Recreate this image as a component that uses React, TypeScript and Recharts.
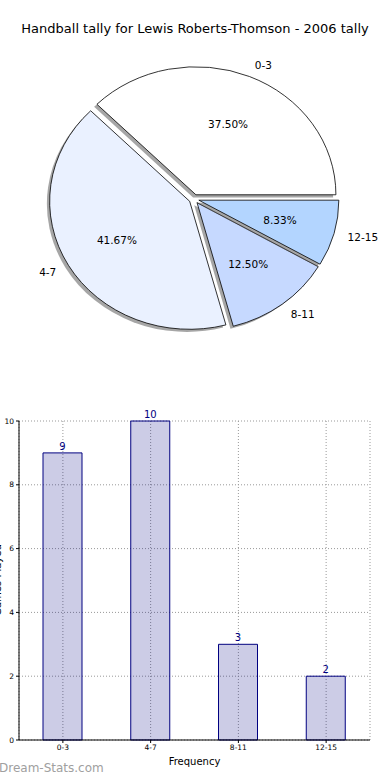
import { PieChart, Pie, Cell, BarChart, Bar, XAxis, YAxis, CartesianGrid, LabelList } from 'recharts'

const categories = ['0-3', '4-7', '8-11', '12-15']
const tallies = [9, 10, 3, 2]
const sliceColors = ['#ffffff', '#eaf1ff', '#c6d9ff', '#b3d5ff']
const yTicks = [0, 2, 4, 6, 8, 10]

const total = tallies.reduce((a, b) => a + b, 0)
const pieData = categories.map((name, i) => ({ name, value: tallies[i] }))
const barData = categories.map((name, i) => ({ name, value: tallies[i] }))

const FONT = '"DejaVu Sans", sans-serif'
const SQUASH = 128 / 140 // pie is drawn a bit flatter than a circle
const EXPLODE = 5
const RAD = Math.PI / 180

const pt = (cx: number, cy: number, r: number, angle: number) => ({
  x: cx + r * Math.cos(angle * RAD),
  y: cy - r * SQUASH * Math.sin(angle * RAD),
})

const wedgePath = (cx: number, cy: number, r: number, start: number, end: number) => {
  const a = pt(cx, cy, r, start)
  const b = pt(cx, cy, r, end)
  const large = Math.abs(end - start) > 180 ? 1 : 0
  const sweep = end > start ? 0 : 1
  return `M${cx},${cy} L${a.x},${a.y} A${r},${r * SQUASH} 0 ${large} ${sweep} ${b.x},${b.y} Z`
}

const explodedCenter = (cx: number, cy: number, mid: number) => pt(cx, cy, EXPLODE, mid)

const ExplodedSlice = (props: any) => {
  const { cx, cy, outerRadius, startAngle, endAngle, fill } = props
  const mid = (startAngle + endAngle) / 2
  const c = explodedCenter(cx, cy, mid)
  const d = wedgePath(c.x, c.y, outerRadius, startAngle, endAngle)
  return (
    <g>
      <path d={d} fill="#4d4d4d" fillOpacity={0.5} transform="translate(-2.8, 2.6)" />
      <path d={d} fill={fill} stroke="#000" strokeWidth={0.8} strokeLinejoin="round" />
    </g>
  )
}

const renderLabels = (props: any) => {
  const { cx, cy, outerRadius, startAngle, endAngle, index } = props
  const mid = (startAngle + endAngle) / 2
  const c = explodedCenter(cx, cy, mid)
  const outer = pt(c.x, c.y, outerRadius * 1.1, mid)
  const inner = pt(c.x, c.y, outerRadius * 0.6, mid)
  const pct = ((tallies[index] / total) * 100).toFixed(2) + '%'
  return (
    <g key={`lbl-${index}`} fontFamily={FONT} fontSize={10.5} fill="#000">
      <text x={outer.x} y={outer.y} textAnchor={Math.cos(mid * RAD) >= 0 ? 'start' : 'end'} dominantBaseline="central">
        {categories[index]}
      </text>
      <text x={inner.x} y={inner.y} textAnchor="middle" dominantBaseline="central">
        {pct}
      </text>
    </g>
  )
}

const App = () => (
  <div style={{ position: 'absolute', left: 0, top: 0, width: 390, height: 780, background: '#fff', fontFamily: FONT, overflow: 'hidden' }}>
    <div style={{ position: 'absolute', left: 0, top: 21, width: 390, textAlign: 'center', fontSize: 13, color: '#000' }}>
      Handball tally for Lewis Roberts-Thomson - 2006 tally
    </div>

    <div style={{ position: 'absolute', left: 0, top: 0 }}>
      <PieChart width={390} height={360} margin={{ top: 0, right: 0, bottom: 0, left: 0 }}>
        <Pie
          data={pieData}
          dataKey="value"
          nameKey="name"
          cx={194}
          cy={199}
          outerRadius={140}
          startAngle={0}
          endAngle={360}
          stroke="none"
          shape={ExplodedSlice}
          label={renderLabels}
          labelLine={false}
          isAnimationActive={false}
        >
          {pieData.map((_, i) => <Cell key={i} fill={sliceColors[i]} />)}
        </Pie>
      </PieChart>
    </div>

    <div style={{ position: 'absolute', left: 0, top: 400 }}>
      <BarChart width={390} height={380} data={barData} margin={{ top: 21, right: 20, bottom: 0, left: 0 }}>
        <CartesianGrid stroke="#999" strokeDasharray="1 2" />
        <XAxis
          dataKey="name"
          height={40}
          interval={0}
          tick={{ fontSize: 7.5, fill: '#000', fontFamily: FONT }}
          tickSize={3}
          axisLine={{ stroke: '#000' }}
          tickLine={{ stroke: '#000' }}
          label={{ value: 'Frequency', position: 'insideBottom', offset: 15, fontSize: 10, fill: '#000', fontFamily: FONT }}
        />
        <XAxis xAxisId="top" orientation="top" dataKey="name" height={0} tick={false} tickLine={false} axisLine={{ stroke: '#000' }} />
        <YAxis
          domain={[0, 10]}
          ticks={yTicks}
          width={19}
          tick={{ fontSize: 7.5, fill: '#000', fontFamily: FONT }}
          tickSize={3}
          axisLine={{ stroke: '#000' }}
          tickLine={{ stroke: '#000' }}
        />
        <YAxis yAxisId="right" orientation="right" domain={[0, 10]} width={0} tick={false} tickLine={false} axisLine={{ stroke: '#000' }} />
        <Bar dataKey="value" barSize={39} fill="#000080" fillOpacity={0.2} stroke="#000080" strokeWidth={1} isAnimationActive={false}>
          <LabelList dataKey="value" position="top" offset={3} fill="#000080" fontSize={10} fontFamily={FONT} />
        </Bar>
      </BarChart>
    </div>

    <div style={{ position: 'absolute', left: -3, top: 580, transform: 'translate(-50%, -50%) rotate(-90deg)', fontSize: 10, whiteSpace: 'nowrap' }}>
      Games Played
    </div>

    <div style={{ position: 'absolute', left: -1, top: 761, fontSize: 12, color: '#a0a0a0' }}>
      Dream-Stats.com
    </div>
  </div>
)

export default App
